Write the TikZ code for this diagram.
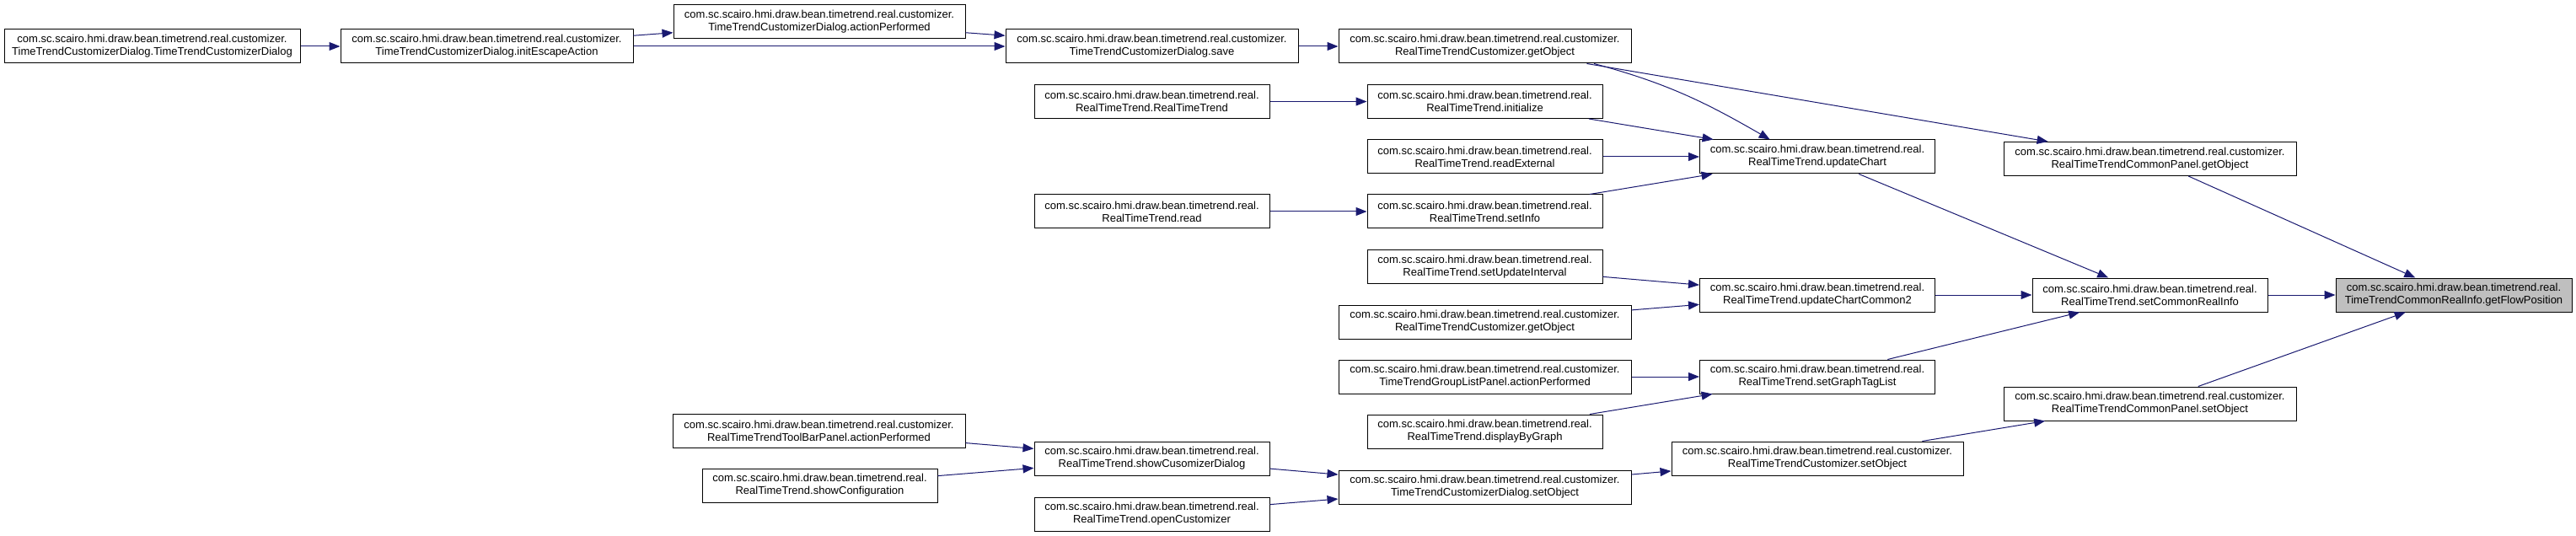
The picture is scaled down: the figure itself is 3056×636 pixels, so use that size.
\documentclass[tikz,border=0pt]{standalone}
\usepackage{fontspec}
\setmainfont{Liberation Sans}
\usetikzlibrary{arrows.meta}
\definecolor{edgeblue}{HTML}{191970}
\definecolor{focusgray}{HTML}{BFBFBF}
\tikzset{
  func/.style={draw=black, line width=1pt, fill=white, align=center, inner sep=0pt,
    minimum height=40pt, minimum width=#1, font=\fontsize{13}{15}\selectfont},
  func/.default=279pt,
  call/.style={draw=edgeblue, line width=1pt, -{Triangle[length=13pt,width=10pt,fill=edgeblue]}}
}
\newcommand{\pkgc}{com.sc.scairo.hmi.draw.bean.timetrend.real.customizer.}
\newcommand{\pkgr}{com.sc.scairo.hmi.draw.bean.timetrend.real.}
\begin{document}
\begin{tikzpicture}[x=1pt,y=-1pt]
    \useasboundingbox (0,0) rectangle (3056,636);
    % callers, left to right
    \node[func=351pt] (ttcdCtor) at (180.5,55) {\pkgc\\TimeTrendCustomizerDialog.TimeTrendCustomizerDialog};
    \node[func=347pt] (ttcdInitEsc) at (577.5,55) {\pkgc\\TimeTrendCustomizerDialog.initEscapeAction};
    \node[func=346pt] (ttcdAction) at (972,26) {\pkgc\\TimeTrendCustomizerDialog.actionPerformed};
    \node[func=347pt] (rtttbAction) at (971.5,511) {\pkgc\\RealTimeTrendToolBarPanel.actionPerformed};
    \node[func] (rttShowConf) at (972.5,576) {\pkgr\\RealTimeTrend.showConfiguration};
    \node[func=347pt] (ttcdSave) at (1366.5,55) {\pkgc\\TimeTrendCustomizerDialog.save};
    \node[func] (rttCtor) at (1366.5,120.5) {\pkgr\\RealTimeTrend.RealTimeTrend};
    \node[func] (rttRead) at (1366.5,251) {\pkgr\\RealTimeTrend.read};
    \node[func] (rttShowDlg) at (1366.5,544) {\pkgr\\RealTimeTrend.showCusomizerDialog};
    \node[func] (rttOpen) at (1366.5,610) {\pkgr\\RealTimeTrend.openCustomizer};
    \node[func=347pt] (rttcGetObj) at (1761.5,55) {\pkgc\\RealTimeTrendCustomizer.getObject};
    \node[func] (rttInit) at (1761.5,120.5) {\pkgr\\RealTimeTrend.initialize};
    \node[func] (rttReadExt) at (1761.5,186) {\pkgr\\RealTimeTrend.readExternal};
    \node[func] (rttSetInfo) at (1761.5,251) {\pkgr\\RealTimeTrend.setInfo};
    \node[func] (rttSetUpd) at (1761.5,316.5) {\pkgr\\RealTimeTrend.setUpdateInterval};
    \node[func=347pt] (rttcGetObj2) at (1761.5,382) {\pkgc\\RealTimeTrendCustomizer.getObject};
    \node[func=347pt] (ttglAction) at (1761.5,447) {\pkgc\\TimeTrendGroupListPanel.actionPerformed};
    \node[func] (rttDisplay) at (1761.5,512) {\pkgr\\RealTimeTrend.displayByGraph};
    \node[func=347pt] (ttcdSetObj) at (1761.5,578) {\pkgc\\TimeTrendCustomizerDialog.setObject};
    \node[func] (rttUpdChart) at (2156,186) {\pkgr\\RealTimeTrend.updateChart};
    \node[func] (rttUpdCommon) at (2156,350) {\pkgr\\RealTimeTrend.updateChartCommon2};
    \node[func] (rttSetTags) at (2156,447) {\pkgr\\RealTimeTrend.setGraphTagList};
    \node[func=346pt] (rttcSetObj) at (2156,544) {\pkgc\\RealTimeTrendCustomizer.setObject};
    \node[func=347pt] (rttcpGetObj) at (2550.5,188.5) {\pkgc\\RealTimeTrendCommonPanel.getObject};
    \node[func] (rttSetCommon) at (2550.5,350) {\pkgr\\RealTimeTrend.setCommonRealInfo};
    \node[func=347pt] (rttcpSetObj) at (2550.5,479) {\pkgc\\RealTimeTrendCommonPanel.setObject};
    % the function itself
    \node[func=280pt, fill=focusgray] (flowPos) at (2911,350) {\pkgr\\TimeTrendCommonRealInfo.getFlowPosition};
    % calls
    \draw[call] (ttcdCtor) -- (ttcdInitEsc);
    \draw[call] (ttcdInitEsc) -- (ttcdAction);
    \draw[call] (ttcdInitEsc) -- (ttcdSave);
    \draw[call] (ttcdAction) -- (ttcdSave);
    \draw[call] (ttcdSave) -- (rttcGetObj);
    \draw[call] (rttcGetObj.-9) to[out=-15,in=150] (rttUpdChart.160);
    \draw[call] (rttcGetObj) -- (rttcpGetObj);
    \draw[call] (rttCtor) -- (rttInit);
    \draw[call] (rttInit) -- (rttUpdChart);
    \draw[call] (rttReadExt) -- (rttUpdChart);
    \draw[call] (rttRead) -- (rttSetInfo);
    \draw[call] (rttSetInfo) -- (rttUpdChart);
    \draw[call] (rttUpdChart) -- (rttSetCommon);
    \draw[call] (rttcpGetObj) -- (flowPos);
    \draw[call] (rttSetUpd) -- (rttUpdCommon);
    \draw[call] (rttcGetObj2) -- (rttUpdCommon);
    \draw[call] (rttUpdCommon) -- (rttSetCommon);
    \draw[call] (ttglAction) -- (rttSetTags);
    \draw[call] (rttDisplay) -- (rttSetTags);
    \draw[call] (rttSetTags) -- (rttSetCommon);
    \draw[call] (rttSetCommon) -- (flowPos);
    \draw[call] (rttcpSetObj) -- (flowPos);
    \draw[call] (rttcSetObj) -- (rttcpSetObj);
    \draw[call] (ttcdSetObj) -- (rttcSetObj);
    \draw[call] (rtttbAction) -- (rttShowDlg);
    \draw[call] (rttShowConf) -- (rttShowDlg);
    \draw[call] (rttShowDlg) -- (ttcdSetObj);
    \draw[call] (rttOpen) -- (ttcdSetObj);
\end{tikzpicture}
\end{document}
